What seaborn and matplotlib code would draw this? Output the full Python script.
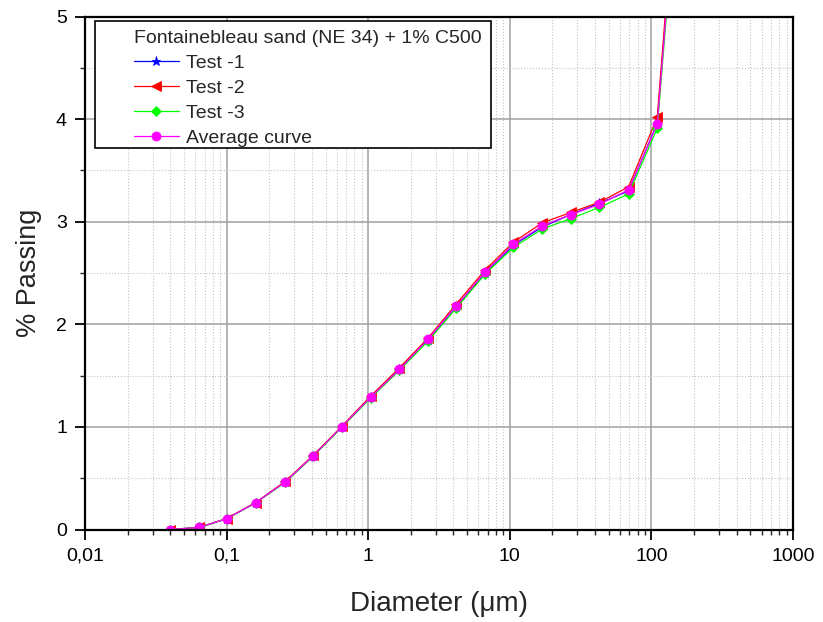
import matplotlib
matplotlib.use('Agg')
import pandas as pd
import matplotlib.pyplot as plt
import seaborn as sns
from matplotlib.ticker import FixedLocator, FixedFormatter, LogLocator, MultipleLocator, NullFormatter
from matplotlib.patches import Rectangle

# particle diameter (um) and % passing for the three tests + average
diameter = [0.04, 0.064, 0.1, 0.16, 0.26, 0.41, 0.65, 1.04, 1.66, 2.66, 4.2, 6.7,
            10.6, 17, 27, 43, 69, 110, 176]
test_1 = [0.0, 0.02, 0.105, 0.26, 0.465, 0.72, 1.0, 1.29, 1.56, 1.85, 2.17, 2.50,
          2.77, 2.95, 3.07, 3.18, 3.30, 3.96, 7.5]
test_2 = [0.0, 0.02, 0.107, 0.262, 0.47, 0.725, 1.005, 1.30, 1.575, 1.87, 2.20, 2.53,
          2.80, 2.99, 3.09, 3.19, 3.34, 4.02, 7.6]
test_3 = [0.0, 0.02, 0.104, 0.258, 0.46, 0.715, 0.995, 1.28, 1.55, 1.84, 2.16, 2.49,
          2.75, 2.93, 3.03, 3.14, 3.27, 3.91, 7.4]
average = [0.0, 0.02, 0.105, 0.26, 0.465, 0.72, 1.0, 1.29, 1.56, 1.86, 2.18, 2.51,
           2.78, 2.96, 3.07, 3.17, 3.31, 3.95, 7.5]

series_names = ['Test -1', 'Test -2', 'Test -3', 'Average curve']
series_values = [test_1, test_2, test_3, average]
series_colors = ['#0000ff', '#ff0000', '#00ff00', '#ff00ff']
series_markers = ['*', '<', 'D', 'o']
marker_sizes = [6.5, 6.5, 5, 6.5]

xtick_values = [0.01, 0.1, 1, 10, 100, 1000]
xtick_labels = ['0,01', '0,1', '1', '10', '100', '1000']
ytick_values = [0, 1, 2, 3, 4, 5]
legend_title = 'Fontainebleau sand (NE 34) + 1% C500'

sns.set_style('white')
plt.rcParams['font.family'] = ['Liberation Sans', 'DejaVu Sans']

fig = plt.figure(figsize=(8.23, 6.22), dpi=100)
ax = fig.add_axes([85 / 823, 1 - 529.5 / 622, 708 / 823, 513 / 622])
ax.set_xscale('log')

for name, vals, col, mk, ms in zip(series_names, series_values, series_colors,
                                   series_markers, marker_sizes):
    df = pd.DataFrame({'Diameter': diameter, 'Passing': vals})
    sns.lineplot(data=df, x='Diameter', y='Passing', ax=ax, color=col, marker=mk,
                 markersize=ms, markeredgecolor=col, markeredgewidth=0.6,
                 linewidth=0.9, label=name)

ax.set_xlim(0.01, 1000)
ax.set_ylim(0, 5)

ax.xaxis.set_major_locator(FixedLocator(xtick_values))
ax.xaxis.set_major_formatter(FixedFormatter(xtick_labels))
ax.xaxis.set_minor_locator(LogLocator(base=10, subs=range(2, 10), numticks=20))
ax.xaxis.set_minor_formatter(NullFormatter())
ax.yaxis.set_major_locator(FixedLocator(ytick_values))
ax.yaxis.set_minor_locator(MultipleLocator(0.5))

ax.tick_params(which='major', direction='out', length=7, width=1.3, labelsize=14,
               pad=6, bottom=True, left=True, colors='black')
ax.tick_params(which='minor', direction='out', length=3.5, width=1.0,
               bottom=True, left=True)

ax.grid(which='major', color='#a0a0a0', linewidth=1.1, linestyle='-')
ax.grid(which='minor', color='#c4c4c4', linewidth=0.8, linestyle=':')
ax.set_axisbelow(True)

for sp in ax.spines.values():
    sp.set_color('black')
    sp.set_linewidth(1.6)

ax.set_xlabel('Diameter (\u03bcm)', fontsize=20, labelpad=19)
ax.set_ylabel('% Passing', fontsize=19.5, labelpad=10)

handles, labels = ax.get_legend_handles_labels()
leg = ax.legend(handles, labels, title=legend_title, loc='upper left',
                bbox_to_anchor=((134 - 85) / 708, (529.5 - 30) / 513),
                frameon=False, fontsize=14, title_fontsize=14, alignment='left',
                handlelength=2.3, handletextpad=0.35, labelspacing=0.38,
                borderpad=0, borderaxespad=0)

# box round the legend, wider on the left like the original
fig.canvas.draw()
bb = leg.get_window_extent()
inv = ax.transAxes.inverted()
x_right = inv.transform((bb.x1 + 9, 0))[0]
x_left = (95 - 85) / 708
y_top = (529.5 - 20.5) / 513
y_bot = (529.5 - 148) / 513
ax.add_patch(Rectangle((x_left, y_bot), x_right - x_left, y_top - y_bot,
                       transform=ax.transAxes, facecolor='white', edgecolor='black',
                       linewidth=1.2, zorder=4.9, clip_on=False))

fig.savefig('out.png', dpi=100)
